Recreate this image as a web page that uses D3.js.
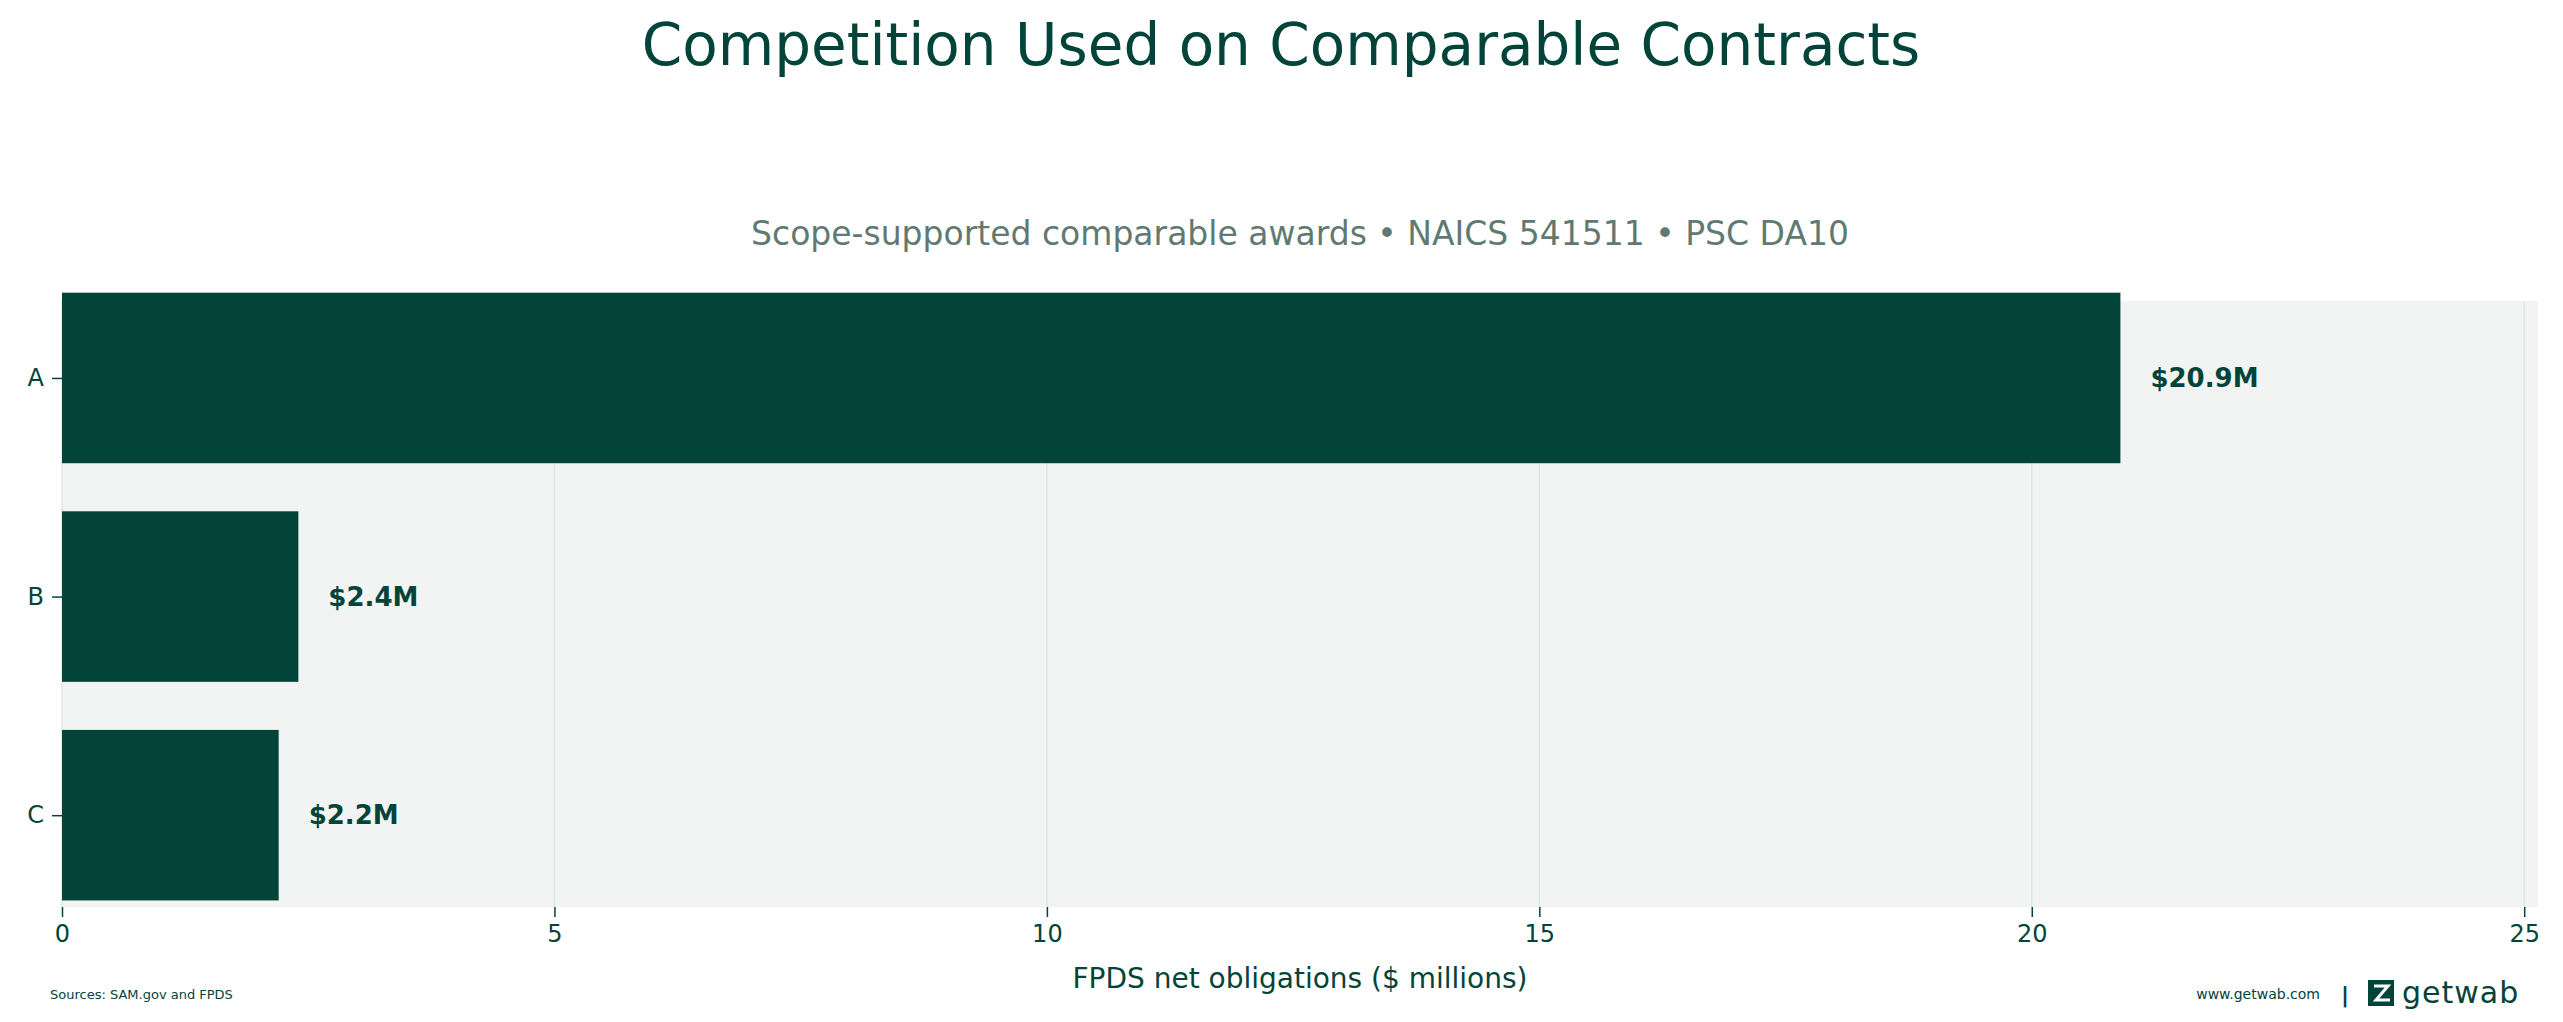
<!DOCTYPE html>
<html><head><meta charset="utf-8">
<script src="https://cdn.jsdelivr.net/npm/d3@7"></script>
<style>body{margin:0;background:#fff}svg{font-family:"DejaVu Sans",sans-serif}</style>
</head><body>
<script>
const categories = ["A","B","C"];
const values = [20.9, 2.4, 2.2];
const valueLabels = ["$20.9M","$2.4M","$2.2M"];
const xTicks = [0,5,10,15,20,25];

const W=2563,H=1022, C="#02443a";
const svg=d3.select("body").append("svg").attr("width",W).attr("height",H);
const L=62,R=2538,T=301,B=907;
const x=d3.scaleLinear().domain([0,25.14]).range([L,R]);
const y=d3.scaleLinear().domain([-0.352,2.42]).range([T,B]);
const bh=y(0.39)-y(0);

svg.append("rect").attr("x",L).attr("y",T).attr("width",R-L).attr("height",B-T).attr("fill","#f1f4f3");
svg.selectAll(".g").data(xTicks).join("line").attr("x1",d=>x(d)).attr("x2",d=>x(d)).attr("y1",T).attr("y2",B).attr("stroke","#dbe7e3").attr("stroke-width",1.5);

svg.selectAll(".bar").data(values).join("rect").attr("x",x(0)).attr("y",(d,i)=>y(i)-bh).attr("width",d=>x(d)-x(0)).attr("height",2*bh).attr("fill",C);
svg.selectAll(".vl").data(values).join("text").attr("x",d=>x(d)+30).attr("y",(d,i)=>y(i)).attr("dy","0.35em").attr("font-size",26).attr("font-weight","bold").attr("fill",C).text((d,i)=>valueLabels[i]);

const xa=svg.append("g").attr("transform",`translate(0,${B})`).call(d3.axisBottom(x).tickValues(xTicks).tickSize(10).tickPadding(8).tickFormat(d3.format("d")));
xa.select(".domain").remove();
xa.selectAll("text").attr("font-size",24).attr("fill",C).attr("font-family","DejaVu Sans");
xa.selectAll("line").attr("stroke",C).attr("stroke-width",1.5);
const ya=svg.append("g").attr("transform",`translate(${L},0)`).call(d3.axisLeft(y).tickValues([0,1,2]).tickSize(10).tickPadding(8).tickFormat(i=>categories[i]));
ya.select(".domain").remove();
ya.selectAll("text").attr("font-size",24).attr("fill",C).attr("font-family","DejaVu Sans");
ya.selectAll("line").attr("stroke",C).attr("stroke-width",1.5);

svg.append("text").attr("x",(L+R)/2).attr("y",988).attr("text-anchor","middle").attr("font-size",28).attr("fill",C).text("FPDS net obligations ($ millions)");
svg.append("text").attr("x",1281).attr("y",65).attr("text-anchor","middle").attr("font-size",58).attr("fill",C).text("Competition Used on Comparable Contracts");
svg.append("text").attr("x",1300).attr("y",245).attr("text-anchor","middle").attr("font-size",33).attr("fill","#5f7a72").text("Scope-supported comparable awards • NAICS 541511 • PSC DA10");
svg.append("text").attr("x",50).attr("y",999).attr("font-size",13).attr("fill",C).text("Sources: SAM.gov and FPDS");
svg.append("text").attr("x",2320).attr("y",999).attr("text-anchor","end").attr("font-size",14).attr("fill",C).text("www.getwab.com");
svg.append("text").attr("x",2345).attr("y",1002).attr("text-anchor","middle").attr("font-size",22).attr("font-weight","bold").attr("fill",C).text("|");
svg.append("rect").attr("x",2368).attr("y",980).attr("width",26).attr("height",26).attr("fill",C);
svg.append("path").attr("d","M2374 986 L2388 986 L2376 1000 L2390 1000").attr("stroke","#fff").attr("stroke-width",3).attr("fill","none");
svg.append("text").attr("x",2402).attr("y",1003).attr("font-size",30).attr("fill",C).attr("letter-spacing",1).text("getwab");
</script>
</body></html>
